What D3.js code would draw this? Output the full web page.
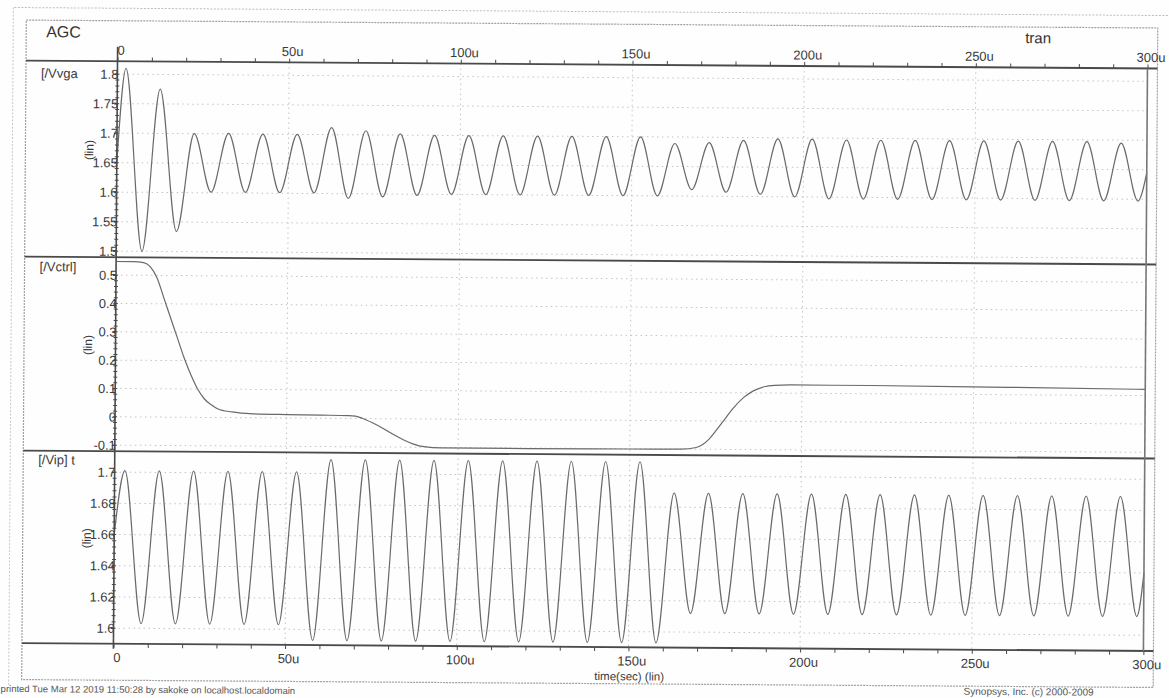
<!DOCTYPE html>
<html>
<head>
<meta charset="utf-8">
<script src="https://cdn.jsdelivr.net/npm/d3@7"></script>
<style>
  body { margin: 0; background: #fff; }
  svg { display: block; font-family: "Liberation Sans", Arial, sans-serif; }
</style>
</head>
<body>
<svg id="chart" width="1169" height="698"></svg>
<script>
// ---- data (time in u = microseconds) ----
var timeTicks = [0, 50, 100, 150, 200, 250, 300];
var timeLabels = ["0", "50u", "100u", "150u", "200u", "250u", "300u"];

var vvgaTicks = [1.5, 1.55, 1.6, 1.65, 1.7, 1.75, 1.8];
var vvgaLabels = ["1.5", "1.55", "1.6", "1.65", "1.7", "1.75", "1.8"];
var vctrlTicks = [-0.1, 0, 0.1, 0.2, 0.3, 0.4, 0.5];
var vctrlLabels = ["-0.1", "0", "0.1", "0.2", "0.3", "0.4", "0.5"];
var vipTicks = [1.6, 1.62, 1.64, 1.66, 1.68, 1.7];
var vipLabels = ["1.6", "1.62", "1.64", "1.66", "1.68", "1.7"];

// Vvga: start, then peaks / troughs every 5u, then end
var vvgaTime = [0, 2.5, 7.5, 12.5, 17.5, 22.5, 27.5, 32.5, 37.5, 42.5, 47.5, 52.5, 57.5,
  62.5, 67.5, 72.5, 77.5, 82.5, 87.5, 92.5, 97.5, 102.5, 107.5, 112.5, 117.5, 122.5, 127.5,
  132.5, 137.5, 142.5, 147.5, 152.5, 157.5, 162.5, 167.5, 172.5, 177.5, 182.5, 187.5, 192.5,
  197.5, 202.5, 207.5, 212.5, 217.5, 222.5, 227.5, 232.5, 237.5, 242.5, 247.5, 252.5, 257.5,
  262.5, 267.5, 272.5, 277.5, 282.5, 287.5, 292.5, 297.5, 300];
var vvgaValue = [1.65, 1.81, 1.50, 1.775, 1.534, 1.700, 1.601, 1.701, 1.601, 1.700, 1.601, 1.700, 1.601,
  1.712, 1.592, 1.707, 1.595, 1.702, 1.598, 1.700, 1.600, 1.700, 1.600, 1.700, 1.600, 1.700, 1.600,
  1.700, 1.600, 1.700, 1.600, 1.700, 1.600, 1.689, 1.611, 1.691, 1.607, 1.695, 1.604, 1.698,
  1.600, 1.698, 1.597, 1.697, 1.597, 1.697, 1.597, 1.697, 1.597, 1.697, 1.597, 1.697, 1.597,
  1.697, 1.597, 1.697, 1.597, 1.697, 1.597, 1.695, 1.597, 1.645];

// Vctrl: control voltage
var vctrlTime = [0, 5, 8, 10, 12, 14, 16, 18, 20, 22, 24, 26, 28, 30, 34, 40, 50, 60, 68, 70, 72,
  75, 78, 81, 84, 87, 90, 95, 120, 150, 165, 169, 171, 173, 175, 177, 180, 183, 186, 189, 192,
  197, 220, 260, 300];
var vctrlValue = [0.548, 0.548, 0.545, 0.53, 0.49, 0.42, 0.35, 0.28, 0.21, 0.15, 0.10, 0.065,
  0.045, 0.03, 0.02, 0.014, 0.012, 0.011, 0.01, 0.008, 0.001, -0.015, -0.034, -0.055, -0.074,
  -0.089, -0.098, -0.102, -0.102, -0.101, -0.1, -0.095, -0.085, -0.065, -0.035, -0.003, 0.045,
  0.083, 0.108, 0.122, 0.127, 0.129, 0.129, 0.126, 0.122];

// Vip: input sine, peaks / troughs every 5u
var vipTime = [0, 3, 8, 13, 18, 23, 28, 33, 38, 43, 48, 53, 58, 63, 68, 73, 78, 83, 88, 93, 98,
  103, 108, 113, 118, 123, 128, 133, 138, 143, 148, 153, 158, 163, 168, 173, 178, 183, 188, 193,
  198, 203, 208, 213, 218, 223, 228, 233, 238, 243, 248, 253, 258, 263, 268, 273, 278, 283, 288,
  293, 298, 300];
var vipValue = [1.66, 1.701, 1.603, 1.701, 1.603, 1.701, 1.603, 1.701, 1.603, 1.701, 1.603, 1.701,
  1.593, 1.709, 1.593, 1.709, 1.593, 1.709, 1.593, 1.709, 1.593, 1.709, 1.593, 1.709, 1.593,
  1.709, 1.593, 1.709, 1.593, 1.709, 1.593, 1.709, 1.593, 1.689, 1.612, 1.689, 1.612, 1.689,
  1.612, 1.689, 1.612, 1.689, 1.612, 1.689, 1.612, 1.689, 1.612, 1.689, 1.612, 1.689, 1.612,
  1.689, 1.612, 1.689, 1.612, 1.689, 1.612, 1.689, 1.612, 1.689, 1.612, 1.64];

// ---- layout ----
var frame = {left: 24, top: 24, right: 1155.5, bottom: 683.5};
var topAxisY = 64.5, bottomAxisY = 647;
var separators = [260.5, 454.5];
var ink = "#4a4a4a", gridCol = "#c4c4c4", textCol = "#3a3a3a";

var x = d3.scaleLinear().domain([0, 300]).range([115.5, 1145.5]);

var panels = [
  {label: "[/Vvga", top: topAxisY, bottom: separators[0], ticks: vvgaTicks, labels: vvgaLabels,
   y: d3.scaleLinear().domain([1.5, 1.8]).range([254.4, 77.4]), minor: 0.01,
   t: vvgaTime, v: vvgaValue, labelY: 81.5},
  {label: "[/Vctrl]", top: separators[0], bottom: separators[1], ticks: vctrlTicks, labels: vctrlLabels,
   y: d3.scaleLinear().domain([-0.1, 0.5]).range([448.4, 278.4]), minor: 0.02,
   t: vctrlTime, v: vctrlValue, labelY: 275},
  {label: "[/Vip] t", top: separators[1], bottom: bottomAxisY, ticks: vipTicks, labels: vipLabels,
   y: d3.scaleLinear().domain([1.6, 1.7]).range([631.4, 475.4]), minor: 0.004,
   t: vipTime, v: vipValue, labelY: 468}
];

var svg = d3.select("#chart");
svg.append("rect").attr("width", 1169).attr("height", 698).attr("fill", "#fefefe");

// the scanned page is slightly tilted
var g = svg.append("g").attr("transform", "rotate(0.4,585,350)");

// outer page border (dotted)
g.append("line").attr("x1", 12).attr("x2", 1175).attr("y1", 11.5).attr("y2", 11.5)
  .attr("stroke", "#bdbdbd").attr("stroke-dasharray", "2,1.5");
g.append("line").attr("x1", 11).attr("x2", 11).attr("y1", 11.5).attr("y2", 690)
  .attr("stroke", "#c8c8c8").attr("stroke-dasharray", "2,1.5");

// inner frame
g.append("rect")
  .attr("x", frame.left).attr("y", frame.top)
  .attr("width", frame.right - frame.left).attr("height", frame.bottom - frame.top)
  .attr("fill", "none").attr("stroke", "#a0a0a0").attr("stroke-width", 1.2)
  .attr("stroke-dasharray", "2,1");

// vertical grid every 50u
g.append("g").selectAll("line")
  .data(timeTicks.slice(1, -1))
  .enter().append("line")
    .attr("x1", d => x(d)).attr("x2", d => x(d))
    .attr("y1", topAxisY).attr("y2", bottomAxisY)
    .attr("stroke", gridCol).attr("stroke-dasharray", "1.5,3.5");

panels.forEach(function(p) {
  // horizontal grid
  g.append("g").selectAll("line")
    .data(p.ticks)
    .enter().append("line")
      .attr("x1", x(0)).attr("x2", x(300))
      .attr("y1", d => p.y(d)).attr("y2", d => p.y(d))
      .attr("stroke", gridCol).attr("stroke-dasharray", "1.5,3.5");

  // minor ticks crossing the y axis
  var d0 = p.y.domain();
  var minors = d3.range(d0[0], d0[1] + p.minor / 2, p.minor);
  g.append("g").selectAll("line")
    .data(minors)
    .enter().append("line")
      .attr("x1", x(0) - 2).attr("x2", x(0) + 2)
      .attr("y1", d => p.y(d)).attr("y2", d => p.y(d))
      .attr("stroke", ink).attr("stroke-width", 1);

  // y labels
  var yAxis = d3.axisLeft(p.y)
    .tickValues(p.ticks)
    .tickSize(3)
    .tickPadding(-4)
    .tickFormat((d, i) => p.labels[i]);
  var ya = g.append("g").attr("transform", "translate(" + x(0) + ",0)").call(yAxis);
  ya.select(".domain").remove();
  ya.selectAll("line").attr("stroke", ink);
  ya.selectAll("text").attr("fill", textCol).style("font-size", "13px")
    .style("font-family", "Liberation Sans, Arial, sans-serif");

  // "(lin)" rotated
  var cy = (p.top + p.bottom) / 2 - 9;
  g.append("text")
    .attr("transform", "translate(92," + cy + ") rotate(-90)")
    .attr("text-anchor", "middle")
    .attr("fill", textCol).style("font-size", "12px")
    .text("(lin)");

  // signal name
  g.append("text")
    .attr("x", 39).attr("y", p.labelY)
    .attr("fill", textCol).style("font-size", "13px")
    .text(p.label);

  // waveform
  var pts = p.t.map((t, i) => [t, p.v[i]]);
  g.append("path")
    .datum(pts)
    .attr("fill", "none")
    .attr("stroke", "#6a6a6a")
    .attr("stroke-width", 1.2)
    .attr("d", d3.line().x(d => x(d[0])).y(d => p.y(d[1])).curve(d3.curveMonotoneX));
});

// full width axis / separator lines
[topAxisY, separators[0], separators[1], bottomAxisY].forEach(function(yy) {
  g.append("line").attr("x1", frame.left).attr("x2", frame.right)
    .attr("y1", yy).attr("y2", yy)
    .attr("stroke", ink).attr("stroke-width", 1.8);
});
// left axis and right edge
g.append("line").attr("x1", x(0)).attr("x2", x(0)).attr("y1", 50).attr("y2", 652)
  .attr("stroke", ink).attr("stroke-width", 1.6);
g.append("line").attr("x1", x(300)).attr("x2", x(300)).attr("y1", topAxisY).attr("y2", bottomAxisY)
  .attr("stroke", "#777").attr("stroke-width", 1.6);

// time axes (top and bottom)
var minorTimes = d3.range(0, 301, 10);
function timeFormat(d) {
  var i = timeTicks.indexOf(d);
  return i >= 0 ? timeLabels[i] : "";
}
var topAxis = g.append("g").attr("transform", "translate(0," + topAxisY + ")")
  .call(d3.axisTop(x).tickValues(minorTimes).tickSize(4).tickPadding(2.5).tickFormat(timeFormat));
var bottomAxis = g.append("g").attr("transform", "translate(0," + bottomAxisY + ")")
  .call(d3.axisBottom(x).tickValues(minorTimes).tickSize(4).tickPadding(5).tickFormat(timeFormat));
[topAxis, bottomAxis].forEach(function(a) {
  a.select(".domain").remove();
  a.selectAll("line").attr("stroke", ink);
  a.selectAll("text").attr("fill", textCol).attr("dx", 3).style("font-size", "13px")
    .style("font-family", "Liberation Sans, Arial, sans-serif");
});

// titles
g.append("text").attr("x", 44).attr("y", 41).attr("fill", "#333")
  .style("font-size", "16px").text("AGC");
g.append("text").attr("x", 1023).attr("y", 40).attr("fill", "#333")
  .style("font-size", "15px").text("tran");
g.append("text").attr("x", x(150) + 1).attr("y", 680).attr("text-anchor", "middle")
  .attr("fill", textCol).style("font-size", "11.5px").text("time(sec) (lin)");

// footer
g.append("text").attr("x", 3).attr("y", 696).attr("fill", "#555")
  .style("font-size", "9.5px")
  .text("printed Tue Mar 12 2019 11:50:28 by sakoke on localhost.localdomain");
g.append("text").attr("x", 966).attr("y", 692).attr("fill", "#555")
  .style("font-size", "10px")
  .text("Synopsys, Inc. (c) 2000-2009");
</script>
</body>
</html>
